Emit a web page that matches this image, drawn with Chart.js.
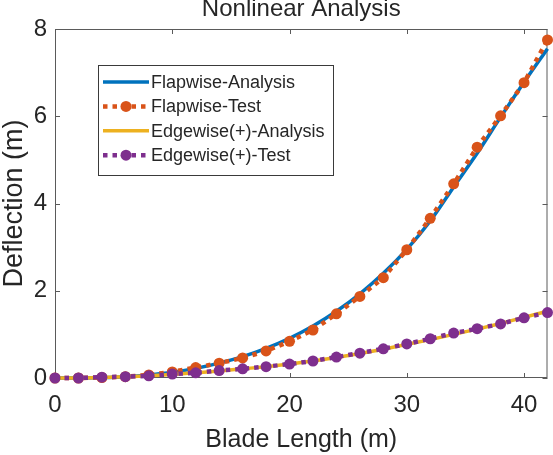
<!DOCTYPE html>
<html>
<head>
<meta charset="utf-8">
<script src="https://cdn.jsdelivr.net/npm/chart.js@4.4.0/dist/chart.umd.min.js"></script>
<style>
  html, body { margin: 0; padding: 0; background: #fff; }
</style>
</head>
<body>
<canvas id="chart" width="553" height="455"></canvas>
<script>
// values
var bladeLength = [0, 2, 4, 6, 8, 10, 12, 14, 16, 18, 20, 22, 24, 26, 28, 30, 32, 34, 36, 38, 40, 42];
var flapAnalysis = [0, 0.00, 0.01, 0.03, 0.07, 0.13, 0.22, 0.34, 0.49, 0.68, 0.91, 1.19, 1.53, 1.93, 2.40, 2.95, 3.60, 4.38, 5.15, 5.98, 6.78, 7.55];
var flapTest = [0, 0.00, 0.01, 0.03, 0.07, 0.14, 0.24, 0.34, 0.46, 0.62, 0.84, 1.10, 1.47, 1.87, 2.30, 2.94, 3.66, 4.45, 5.29, 6.01, 6.77, 7.75];
var edgeAnalysis = [0, 0.00, 0.01, 0.03, 0.05, 0.08, 0.12, 0.16, 0.21, 0.26, 0.32, 0.39, 0.47, 0.56, 0.66, 0.77, 0.88, 1.00, 1.12, 1.25, 1.39, 1.53];
var edgeTest = [0, 0.00, 0.02, 0.03, 0.05, 0.09, 0.12, 0.17, 0.21, 0.26, 0.32, 0.39, 0.48, 0.57, 0.67, 0.78, 0.90, 1.03, 1.13, 1.24, 1.38, 1.50];
var seriesNames = ['Flapwise-Analysis', 'Flapwise-Test', 'Edgewise(+)-Analysis', 'Edgewise(+)-Test'];
var xTicks = [0, 10, 20, 30, 40];
var yTicks = [0, 2, 4, 6, 8];

var FONT = "'Liberation Sans', Arial, Helvetica, sans-serif";
var TEXT = '#262626';

function points(ys) {
  return bladeLength.map(function (x, i) { return { x: x, y: ys[i] }; });
}

function analysis(label, values, color, order) {
  return {
    label: label, data: points(values), order: order,
    borderColor: color, backgroundColor: color, borderWidth: 3.5,
    pointRadius: 0, cubicInterpolationMode: 'monotone', clip: 8
  };
}

function test(label, values, color, order) {
  return {
    label: label, data: points(values), order: order,
    borderColor: color, backgroundColor: color, borderWidth: 4.5,
    borderDash: [4.5, 5], borderCapStyle: 'butt',
    pointRadius: 5.5, pointBorderWidth: 0, pointBackgroundColor: color, clip: 8
  };
}

var frame = {
  id: 'frame',
  beforeDatasetsDraw: function (chart) {
    var a = chart.chartArea, ctx = chart.ctx;
    var xs = chart.scales.x, ys = chart.scales.y;
    ctx.save();
    ctx.strokeStyle = '#5a5a5a';
    ctx.lineWidth = 1;
    ctx.strokeRect(a.left + 0.5, a.top + 0.5, a.right - a.left - 1, a.bottom - a.top - 1);
    ctx.beginPath();
    xTicks.forEach(function (v) {
      var px = Math.round(xs.getPixelForValue(v)) + 0.5;
      ctx.moveTo(px, a.bottom); ctx.lineTo(px, a.bottom - 5);
      ctx.moveTo(px, a.top); ctx.lineTo(px, a.top + 5);
    });
    yTicks.forEach(function (v) {
      var py = Math.round(ys.getPixelForValue(v)) + 0.5;
      ctx.moveTo(a.left, py); ctx.lineTo(a.left + 5, py);
      ctx.moveTo(a.right, py); ctx.lineTo(a.right - 5, py);
    });
    ctx.stroke();
    ctx.restore();
  }
};

var titleAndLegend = {
  id: 'titleAndLegend',
  afterDraw: function (chart) {
    var ctx = chart.ctx, a = chart.chartArea;
    ctx.save();
    ctx.fillStyle = TEXT;
    ctx.font = '24px ' + FONT;
    ctx.textAlign = 'center';
    ctx.textBaseline = 'alphabetic';
    ctx.fillText('Nonlinear Analysis', (a.left + a.right) / 2, 16);

    // legend box
    var bx = 98, by = 65, bw = 235, bh = 110;
    ctx.fillStyle = '#fff';
    ctx.fillRect(bx, by, bw, bh);
    ctx.strokeStyle = '#3a3a3a';
    ctx.lineWidth = 1;
    ctx.strokeRect(bx + 0.5, by + 0.5, bw, bh);
    ctx.font = '18px ' + FONT;
    ctx.textAlign = 'left';
    ctx.textBaseline = 'middle';
    chart.data.datasets.forEach(function (ds, i) {
      var y = 82 + i * 24.4;
      ctx.save();
      ctx.strokeStyle = ds.borderColor;
      ctx.lineWidth = ds.borderWidth;
      ctx.setLineDash(ds.borderDash || []);
      ctx.beginPath();
      ctx.moveTo(103, y); ctx.lineTo(149, y);
      ctx.stroke();
      if (ds.pointRadius) {
        ctx.fillStyle = ds.borderColor;
        ctx.beginPath();
        ctx.arc(126, y, ds.pointRadius, 0, Math.PI * 2);
        ctx.fill();
      }
      ctx.restore();
      ctx.fillStyle = TEXT;
      ctx.fillText(ds.label, 151, y + 1);
    });
    ctx.restore();
  }
};

new Chart(document.getElementById('chart'), {
  type: 'scatter',
  data: {
    datasets: [
      analysis(seriesNames[0], flapAnalysis, '#0072BD', 3),
      test(seriesNames[1], flapTest, '#D95319', 2),
      analysis(seriesNames[2], edgeAnalysis, '#EDB120', 1),
      test(seriesNames[3], edgeTest, '#7E2F8E', 0)
    ]
  },
  options: {
    responsive: false,
    devicePixelRatio: 1,
    animation: false,
    showLine: true,
    layout: { padding: { top: 29, right: 4, left: 0, bottom: 0 } },
    plugins: { legend: { display: false }, title: { display: false }, tooltip: { enabled: false } },
    scales: {
      x: {
        type: 'linear', min: 0, max: 42,
        afterBuildTicks: function (s) { s.ticks = xTicks.map(function (v) { return { value: v }; }); },
        afterFit: function (s) { s.height = 77; },
        grid: { display: false, drawTicks: false },
        border: { display: false },
        ticks: { color: TEXT, font: { family: FONT, size: 24 }, padding: 13, maxRotation: 0 },
        title: { display: true, text: 'Blade Length (m)', color: TEXT, font: { family: FONT, size: 25 }, padding: { top: 0, bottom: 0 } }
      },
      y: {
        type: 'linear', min: 0, max: 8,
        afterBuildTicks: function (s) { s.ticks = yTicks.map(function (v) { return { value: v }; }); },
        afterFit: function (s) { s.width = 55; },
        grid: { display: false, drawTicks: false },
        border: { display: false },
        ticks: { color: TEXT, font: { family: FONT, size: 24 }, padding: 8 },
        title: { display: true, text: 'Deflection (m)', color: TEXT, font: { family: FONT, size: 27, lineHeight: 1 }, padding: { top: 1, bottom: 0 } }
      }
    }
  },
  plugins: [frame, titleAndLegend]
});
</script>
</body>
</html>
